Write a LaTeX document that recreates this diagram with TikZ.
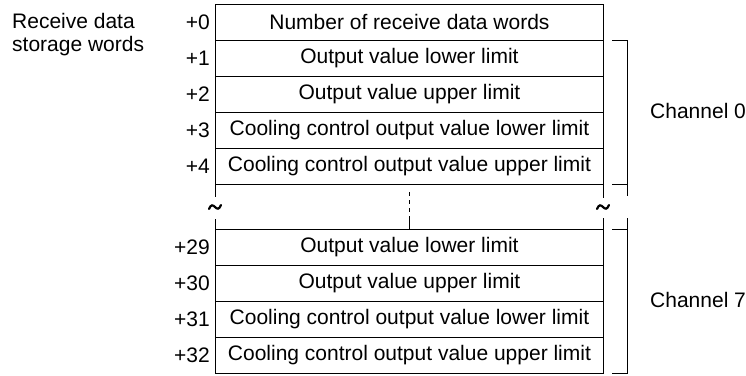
\documentclass[tikz,border=0pt]{standalone}
\usepackage{fontspec}
\setmainfont{Liberation Sans}
\begin{document}
\begin{tikzpicture}[x=1pt,y=-1pt,
  txt/.style={font=\fontsize{21}{23.5}\selectfont},
  rowbox/.style={draw, line width=0.9pt, minimum width=388pt, minimum height=36pt,
    inner sep=0pt, anchor=north west, txt},
  idx/.style={anchor=east, inner sep=0pt, txt},
  ln/.style={line width=0.9pt},
  tld/.style={line width=2.2pt, line cap=round}
]
\useasboundingbox (0,0) rectangle (746,375);

% top group
\node[rowbox] (r0) at (215,4)   {Number of receive data words};
\node[rowbox] (r1) at (215,40)  {Output value lower limit};
\node[rowbox] (r2) at (215,76)  {Output value upper limit};
\node[rowbox] (r3) at (215,112) {Cooling control output value lower limit};
\node[rowbox] (r4) at (215,148) {Cooling control output value upper limit};
% bottom group
\node[rowbox] (r29) at (215,229) {Output value lower limit};
\node[rowbox] (r30) at (215,265) {Output value upper limit};
\node[rowbox] (r31) at (215,301) {Cooling control output value lower limit};
\node[rowbox] (r32) at (215,337) {Cooling control output value upper limit};

% indices
\foreach \n/\lab in {r0/+0,r1/+1,r2/+2,r3/+3,r4/+4,r29/+29,r30/+30,r31/+31,r32/+32}
  \node[idx] (i\n) at ([xshift=-5pt]\n.west) {\lab};

\node[anchor=north west, align=left, inner sep=0pt, txt] (title) at (12,13)
  {Receive data\\storage words};

% gap lines
\draw[ln] (r4.south west) -- ++(0,12);
\draw[ln] (r29.north west) -- ++(0,-10);
\draw[ln] (r4.south east) -- ++(0,13);
\draw[ln] (r29.north east) -- ++(0,-11);
\coordinate (d1) at (409,192);
\coordinate (d2) at (409,217);
\coordinate (d3) at (409,229);
\draw[ln, dash pattern=on 4pt off 4pt] (d1) -- (d2);
\draw[ln] (d2) -- (d3);

% tildes
\draw[tld] (209,209) .. controls (211,204) and (213,205) .. (215,207)
  .. controls (217,209) and (219,210) .. (221,205);
\draw[tld] (597,209) .. controls (599,204) and (601,205) .. (603,207)
  .. controls (605,209) and (607,210) .. (609,205);

% brackets
\coordinate (b0t) at (612,40);
\coordinate (b0m) at (627,40);
\coordinate (b0e) at (627,196);
\coordinate (b0b) at (612,184);
\coordinate (b0c) at (627,184);
\draw[ln] (b0t) -- (b0m) -- (b0e);
\draw[ln] (b0b) -- (b0c);
\coordinate (b7s) at (627,218);
\coordinate (b7c) at (627,373);
\coordinate (b7b) at (612,373);
\coordinate (b7t) at (612,229);
\coordinate (b7m) at (627,229);
\draw[ln] (b7s) -- (b7c) -- (b7b);
\draw[ln] (b7t) -- (b7m);

\node[anchor=west, inner sep=0pt, txt] (ch0) at (650,111) {Channel 0};
\node[anchor=west, inner sep=0pt, txt] (ch7) at (650,300) {Channel 7};
\end{tikzpicture}
\end{document}
